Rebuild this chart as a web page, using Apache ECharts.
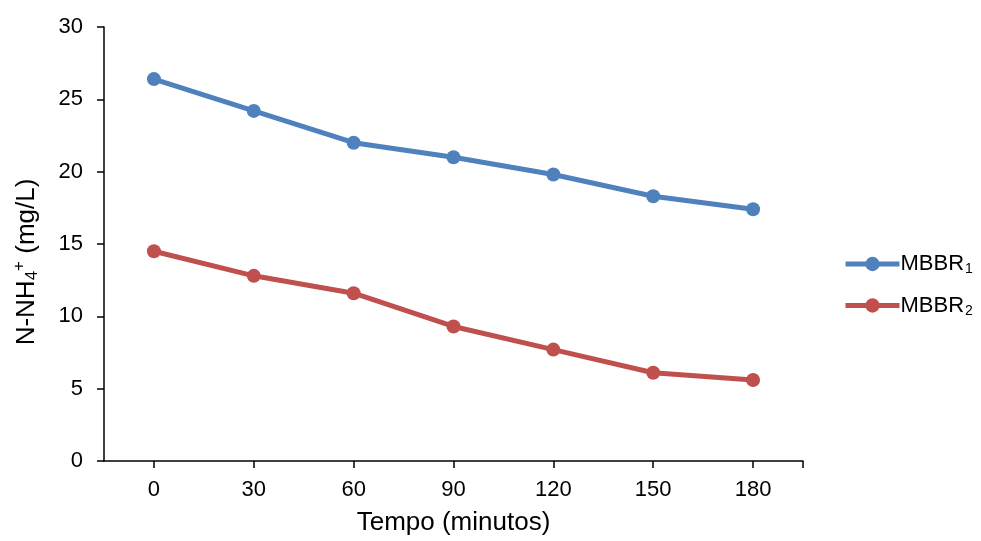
<!DOCTYPE html>
<html><head><meta charset="utf-8">
<script src="https://cdn.jsdelivr.net/npm/echarts@6/dist/echarts.min.js"></script>
<style>html,body{margin:0;padding:0;background:#fff}#c{width:981px;height:541px}</style>
</head><body><div id="c"></div>
<script>
const times = [0, 30, 60, 90, 120, 150, 180];
const mbbr1 = [26.4, 24.2, 22.0, 21.0, 19.8, 18.3, 17.4];
const mbbr2 = [14.5, 12.8, 11.6, 9.3, 7.7, 6.1, 5.6];
const yTicks = [0, 5, 10, 15, 20, 25, 30];

const chart = echarts.init(document.getElementById('c'));
const font = 'Liberation Sans, Arial, sans-serif';
const pair = (arr) => times.map((t, i) => [t, arr[i]]);
chart.setOption({
  animation: false,
  textStyle: { fontFamily: font },
  grid: { left: 104, right: 178, top: 27, bottom: 80 },
  legend: {
    orient: 'vertical', left: 843, top: 253, itemGap: 18, padding: 0,
    itemWidth: 54, itemHeight: 18,
    data: ['MBBR1', 'MBBR2'],
    lineStyle: { width: 5 },
    formatter: (n) => '{a|MBBR}{s|' + n.slice(4) + '}',
    textStyle: {
      color: '#000', fontFamily: font, padding: [0, 0, 0, -4],
      rich: { a: { fontSize: 22, fontFamily: font, color: '#000' },
              s: { fontSize: 14, fontFamily: font, color: '#000', padding: [11, 0, 0, 1] } }
    }
  },
  xAxis: {
    type: 'value', min: -15, max: 195,
    name: 'Tempo (minutos)', nameLocation: 'middle', nameGap: 49,
    nameTextStyle: { fontSize: 26, color: '#000', fontFamily: font },
    splitLine: { show: false },
    axisLine: { lineStyle: { color: '#000', width: 1.5 } },
    axisTick: { show: true, length: 7, lineStyle: { color: '#000', width: 1.5 }, customValues: times.concat([195]) },
    axisLabel: { fontSize: 22, color: '#000', margin: 18, fontFamily: font, customValues: times }
  },
  yAxis: {
    type: 'value', min: 0, max: 30, interval: 5,
    name: '{a|N-NH}{s|4}{p|+}{a| (mg/L)}', nameLocation: 'middle', nameGap: 62,
    nameTextStyle: {
      color: '#000', fontFamily: font, padding: [0, 36, 0, 0],
      rich: { a: { fontSize: 26, fontFamily: font, color: '#000' },
              s: { fontSize: 17, fontFamily: font, color: '#000', padding: [12, 0, 0, 0] },
              p: { fontSize: 17, fontFamily: font, color: '#000', padding: [0, 0, 14, 0] } }
    },
    splitLine: { show: false },
    axisLine: { show: true, onZero: false, lineStyle: { color: '#000', width: 1.5 } },
    axisTick: { show: true, length: 7, lineStyle: { color: '#000', width: 1.5 }, customValues: yTicks },
    axisLabel: { fontSize: 22, color: '#000', margin: 21, fontFamily: font, customValues: yTicks }
  },
  series: [
    { name: 'MBBR1', type: 'line', data: pair(mbbr1), symbol: 'circle', symbolSize: 14,
      itemStyle: { color: '#4F81BD' }, lineStyle: { color: '#4F81BD', width: 5 } },
    { name: 'MBBR2', type: 'line', data: pair(mbbr2), symbol: 'circle', symbolSize: 14,
      itemStyle: { color: '#C0504D' }, lineStyle: { color: '#C0504D', width: 5 } }
  ]
});
</script></body></html>
